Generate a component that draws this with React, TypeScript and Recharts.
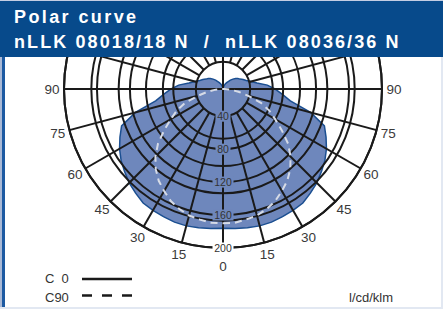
import { RadarChart, Radar, PolarGrid, PolarAngleAxis, PolarRadiusAxis } from "recharts";

// angle from nadir in degrees, 5° steps, right half (C0) first then back round the left half
const ANGLES = [
  0, 5, 10, 15, 20, 25, 30, 35, 40, 45, 50, 55,
  60, 65, 70, 75, 80, 85, 90, 95, 100, 105, 110, 115,
  120, 125, 130, 135, 140, 145, 150, 155, 160, 165, 170, 175,
  180, 185, 190, 195, 200, 205, 210, 215, 220, 225, 230, 235,
  240, 245, 250, 255, 260, 265, 270, 275, 280, 285, 290, 295,
  300, 305, 310, 315, 320, 325, 330, 335, 340, 345, 350, 355,
];

// cd/klm
const C0 = [
  176, 177, 178, 179, 179, 178, 177, 176, 172, 168, 163, 158,
  152, 145, 138, 117, 90, 79, 70, 61, 49, 42, 37, 34,
  31, 29, 27, 24, 21, 18, 16, 14, 12, 10, 9, 8,
  7, 8, 9, 10, 12, 14, 16, 18, 21, 24, 27, 29,
  31, 34, 37, 42, 49, 61, 70, 79, 90, 117, 138, 145,
  152, 158, 163, 168, 172, 176, 177, 178, 179, 179, 178, 177,
];

const C90 = [
  170, 170, 168, 166, 162, 157, 150, 143, 134, 123, 110, 94,
  80, 69, 56, 38, 26, 16, 9, 7, 7, 7, 7, 7,
  7, 7, 7, 7, 7, 7, 7, 7, 7, 7, 7, 7,
  7, 7, 7, 7, 7, 7, 7, 7, 7, 7, 7, 7,
  7, 7, 7, 7, 7, 7, 9, 16, 26, 38, 56, 69,
  80, 94, 110, 123, 134, 143, 150, 157, 162, 166, 168, 170,
];

const SPOKES = [0, 15, 30, 45, 60, 75, 90, 105, 120, 135, 150, 165, 180, 195, 210, 225, 240, 255, 270, 285, 300, 315, 330, 345];
const CROSS = [0, 90, 180, 270];
const RADIUS_TICKS = [40, 80, 120, 160, 200];
const R_MIN = 7;
const R_MAX = 200;

const data = ANGLES.map((angle, i) => ({ angle, c0: C0[i], c90: C90[i] }));

const W = 443;
const H = 309;
const CX = 223;
const CY = 89;
const OUTER = 159;
const START = -90;
const END = 270;
const INNER_SPOKE = (OUTER * (RADIUS_TICKS[0] - R_MIN)) / (R_MAX - R_MIN);

const FONT = '"Liberation Sans", Arial, sans-serif';
const FILL = "#6e87bc";
const EDGE = "#1b4f91";
const GRID = "#1a1a1a";
const HEADER = "#074a8b";
const MARGIN = { top: 0, right: 0, bottom: 0, left: 0 };

function RadiusTick(props: any) {
  const { x, y, payload } = props;
  const label = String(payload.value);
  const w = label.length * 6 + 3;
  const bg = payload.value < C0[0] ? FILL : "#ffffff";
  return (
    <g>
      <rect x={x - w / 2} y={y - 5.5} width={w} height={11} fill={bg} />
      <text
        x={x}
        y={y}
        textAnchor="middle"
        dominantBaseline="central"
        fontSize={10.5}
        fontFamily={FONT}
        fill="#333"
      >
        {label}
      </text>
    </g>
  );
}

function AngleTick(props: any) {
  const { x, y, payload, textAnchor } = props;
  const a = Number(payload.value);
  const shown = a <= 180 ? a : 360 - a;
  if (shown > 90) return <g />;
  return (
    <text
      x={x}
      y={y}
      dy={textAnchor === "middle" ? 6 : 0}
      textAnchor="middle"
      dominantBaseline="central"
      fontSize={13.5}
      fontFamily={FONT}
      fill="#3a3a3a"
    >
      {shown}
    </text>
  );
}

const layer: React.CSSProperties = { position: "absolute", left: 0, top: 0 };

export default function App() {
  return (
    <div
      style={{
        position: "absolute",
        left: 0,
        top: 0,
        width: W,
        height: H,
        background: "#fff",
        overflow: "hidden",
        fontFamily: FONT,
      }}
    >
      {/* filled C0 curve */}
      <div style={layer}>
        <RadarChart width={W} height={H} data={data} cx={CX} cy={CY} outerRadius={OUTER} startAngle={START} endAngle={END} margin={MARGIN}>
          <PolarAngleAxis dataKey="angle" type="number" domain={[0, 360]} ticks={SPOKES} tick={false} axisLine={false} tickLine={false} />
          <PolarRadiusAxis domain={[R_MIN, R_MAX]} ticks={RADIUS_TICKS} tick={false} axisLine={false} tickLine={false} />
          <Radar dataKey="c0" stroke={EDGE} strokeWidth={1.5} fill={FILL} fillOpacity={1} isAnimationActive={false} />
        </RadarChart>
      </div>

      {/* 15° spokes, starting at the 40 ring, and the rings */}
      <div style={layer}>
        <RadarChart width={W} height={H} data={data} cx={CX} cy={CY} innerRadius={INNER_SPOKE} outerRadius={OUTER} startAngle={START} endAngle={END} margin={MARGIN}>
          <PolarAngleAxis dataKey="angle" type="number" domain={[0, 360]} ticks={SPOKES} tick={false} axisLine={false} tickLine={false} />
          <PolarRadiusAxis domain={[RADIUS_TICKS[0], R_MAX]} ticks={RADIUS_TICKS} tick={false} axisLine={false} tickLine={false} />
          <PolarGrid gridType="circle" stroke={GRID} strokeWidth={2} strokeOpacity={1} />
          <Radar dataKey="c0" stroke="none" fill="none" fillOpacity={0} isAnimationActive={false} />
        </RadarChart>
      </div>

      {/* full cross through the centre, C90 dashed, labels */}
      <div style={layer}>
        <RadarChart width={W} height={H} data={data} cx={CX} cy={CY} outerRadius={OUTER} startAngle={START} endAngle={END} margin={MARGIN}>
          <PolarAngleAxis dataKey="angle" type="number" domain={[0, 360]} ticks={CROSS} tick={false} axisLine={false} tickLine={false} />
          <PolarGrid gridType="circle" stroke={GRID} strokeWidth={2} strokeOpacity={1} />
          <Radar dataKey="c90" stroke="#d6dbe6" strokeWidth={2} strokeDasharray="7 5" fill="none" fillOpacity={0} isAnimationActive={false} />
          <PolarRadiusAxis angle={-90} domain={[R_MIN, R_MAX]} ticks={RADIUS_TICKS} tick={RadiusTick} axisLine={false} tickLine={false} />
        </RadarChart>
      </div>

      {/* angle labels */}
      <div style={layer}>
        <RadarChart width={W} height={H} data={data} cx={CX} cy={CY} outerRadius={OUTER} startAngle={START} endAngle={END} margin={MARGIN}>
          <PolarAngleAxis dataKey="angle" type="number" domain={[0, 360]} ticks={SPOKES} tick={AngleTick} tickSize={12} axisLine={false} tickLine={false} />
          <PolarRadiusAxis domain={[R_MIN, R_MAX]} tick={false} axisLine={false} tickLine={false} />
          <Radar dataKey="c0" stroke="none" fill="none" fillOpacity={0} isAnimationActive={false} />
        </RadarChart>
      </div>

      {/* legend and unit */}
      <svg width={W} height={H} style={{ ...layer, pointerEvents: "none" }}>
        <text x={45} y={283} fontSize={13} fontFamily={FONT} fill="#333" style={{ whiteSpace: "pre" }}>
          C  0
        </text>
        <line x1={82} y1={279} x2={132} y2={279} stroke="#1a1a1a" strokeWidth={2.3} />
        <text x={45} y={302} fontSize={13} fontFamily={FONT} fill="#333">
          C90
        </text>
        <line x1={82} y1={295.5} x2={132} y2={295.5} stroke="#1a1a1a" strokeWidth={2.3} strokeDasharray="10 10" />
        <text x={349} y={302} fontSize={13} fontFamily={FONT} fill="#333">
          l/cd/klm
        </text>
      </svg>

      {/* frame */}
      <div style={{ position: "absolute", left: 0, top: 0, width: 2, height: H, background: "#a9b9d6" }} />
      <div style={{ position: "absolute", left: 2, top: 0, width: 3, height: H, background: "#1d5aa2" }} />
      <div style={{ position: "absolute", right: 0, top: 0, width: 2, height: H, background: "#e2e8f2" }} />
      <div style={{ position: "absolute", left: 0, bottom: 0, width: W, height: 2, background: "#e2e8f2" }} />

      {/* header */}
      <div
        style={{
          position: "absolute",
          left: 0,
          top: 0,
          width: W,
          height: 57,
          background: HEADER,
          borderTop: "1px solid #c3cde3",
          boxSizing: "border-box",
          color: "#fff",
          fontWeight: 700,
          fontSize: 18,
        }}
      >
        <div style={{ position: "absolute", left: 14, top: 6, whiteSpace: "pre", letterSpacing: 2.4 }}>Polar curve</div>
        <div style={{ position: "absolute", left: 14, top: 31, whiteSpace: "pre", letterSpacing: 2.1 }}>
          nLLK 08018/18 N  /  nLLK 08036/36 N
        </div>
      </div>
    </div>
  );
}
